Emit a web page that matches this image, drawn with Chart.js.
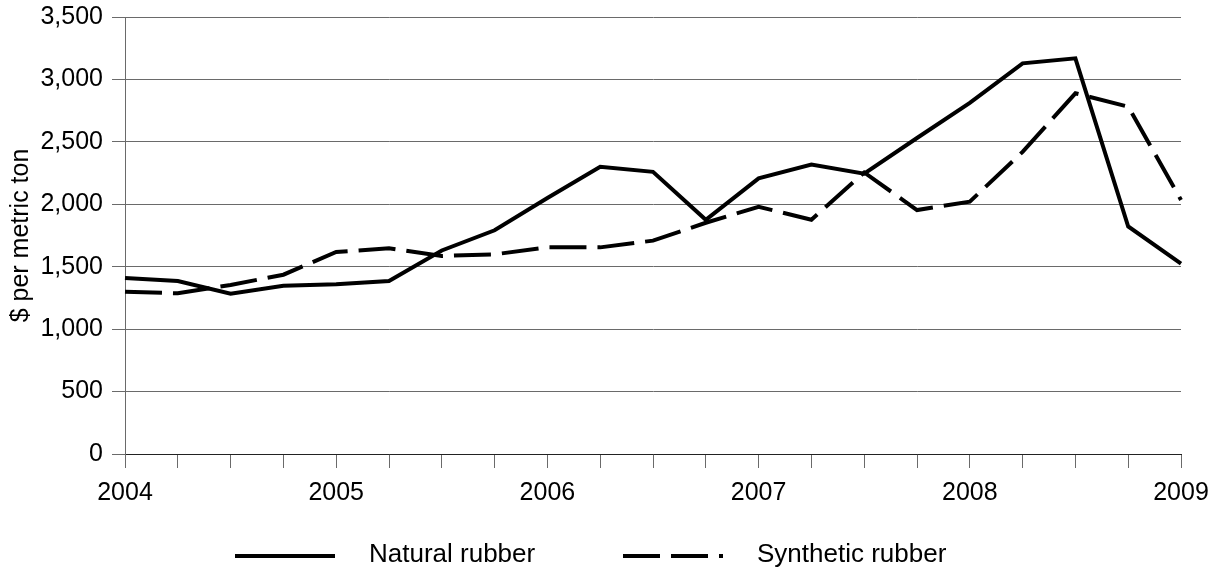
<!DOCTYPE html>
<html>
<head>
<meta charset="utf-8">
<title>Rubber prices</title>
<script src="https://cdn.jsdelivr.net/npm/chart.js@4/dist/chart.umd.min.js"></script>
<style>
  body { margin: 0; background: #fff; }
</style>
</head>
<body>
<canvas id="myChart" width="1221" height="574"></canvas>
<script>
// quarterly prices, $ per metric ton, 2004 Q1 .. 2009 Q1
var quarters = ['2004 Q1', '2004 Q2', '2004 Q3', '2004 Q4',
                '2005 Q1', '2005 Q2', '2005 Q3', '2005 Q4',
                '2006 Q1', '2006 Q2', '2006 Q3', '2006 Q4',
                '2007 Q1', '2007 Q2', '2007 Q3', '2007 Q4',
                '2008 Q1', '2008 Q2', '2008 Q3', '2008 Q4',
                '2009 Q1'];
var natural = [1410, 1385, 1283, 1348, 1360, 1385, 1630, 1792, 2050, 2300, 2260, 1876,
               2208, 2318, 2245, 2531, 2812, 3129, 3169, 1822, 1525];
var synthetic = [1300, 1287, 1354, 1436, 1618, 1648, 1586, 1599, 1655, 1655, 1709, 1852,
                 1980, 1876, 2255, 1954, 2021, 2420, 2889, 2782, 2035];
var seriesNames = ['Natural rubber', 'Synthetic rubber'];
var yTicks = [0, 500, 1000, 1500, 2000, 2500, 3000, 3500];

var FONT = "'Liberation Sans', Arial, sans-serif";
var gridColor = '#6a6a6a';

// legend drawn as a long line sample + label, like the original
var lineLegend = {
    id: 'lineLegend',
    afterDraw: function (chart) {
        var ctx = chart.ctx;
        var startX = [235, 623];
        var y = 556;
        ctx.save();
        chart.data.datasets.forEach(function (ds, i) {
            ctx.beginPath();
            ctx.lineWidth = ds.borderWidth;
            ctx.strokeStyle = ds.borderColor;
            ctx.setLineDash(ds.borderDash || []);
            ctx.moveTo(startX[i], y);
            ctx.lineTo(startX[i] + 100, y);
            ctx.stroke();
            ctx.setLineDash([]);
            ctx.fillStyle = '#000';
            ctx.font = "26px " + FONT;
            ctx.textBaseline = 'middle';
            ctx.fillText(ds.label, startX[i] + 134, y - 1);
        });
        ctx.restore();
    }
};

var ctx = document.getElementById('myChart');
var myChart = new Chart(ctx, {
    type: 'line',
    data: {
        labels: quarters,
        datasets: [{
            label: seriesNames[0],
            data: natural,
            borderColor: '#000',
            backgroundColor: '#000',
            borderWidth: 4,
            borderJoinStyle: 'miter',
            pointRadius: 0,
            tension: 0
        }, {
            label: seriesNames[1],
            data: synthetic,
            borderColor: '#000',
            backgroundColor: '#000',
            borderWidth: 4,
            borderDash: [37, 11],
            borderJoinStyle: 'miter',
            pointRadius: 0,
            tension: 0
        }]
    },
    options: {
        responsive: false,
        animation: false,
        layout: { padding: { top: 17, right: 40, bottom: 60, left: 0 } },
        plugins: {
            legend: { display: false },
            tooltip: { enabled: false }
        },
        scales: {
            x: {
                grid: {
                    drawOnChartArea: false,
                    drawTicks: true,
                    tickLength: 14,
                    color: gridColor
                },
                border: { display: true, color: '#222' },
                ticks: {
                    autoSkip: false,
                    maxRotation: 0,
                    padding: 10,
                    color: '#000',
                    font: { size: 25, family: FONT },
                    callback: function (val, idx) {
                        var q = quarters[idx];
                        return q.slice(5) === 'Q1' ? q.slice(0, 4) : '';
                    }
                },
                afterFit: function (scale) { scale.height = 60; }
            },
            y: {
                min: yTicks[0],
                max: yTicks[yTicks.length - 1],
                grid: {
                    color: gridColor,
                    tickLength: 13
                },
                border: { display: true, color: gridColor },
                ticks: {
                    stepSize: yTicks[1] - yTicks[0],
                    padding: 9,
                    color: '#000',
                    font: { size: 25, family: FONT },
                    callback: function (v) { return v.toLocaleString('en-US'); }
                },
                title: {
                    display: true,
                    text: '$ per metric ton',
                    color: '#000',
                    font: { size: 25, family: FONT },
                    padding: { top: 6, bottom: 0 }
                },
                afterFit: function (scale) {
                    scale.width = 125;
                    scale.paddingTop = 0;
                    scale.paddingBottom = 0;
                }
            }
        }
    },
    plugins: [lineLegend]
});
</script>
</body>
</html>
